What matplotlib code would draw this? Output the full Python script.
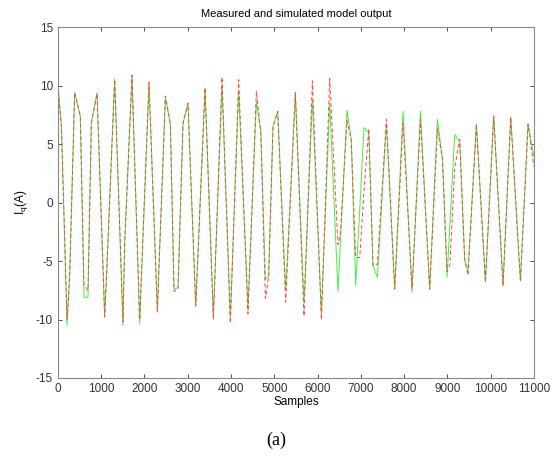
import matplotlib
matplotlib.use("Agg")
import matplotlib.pyplot as plt

# vertices (sample index, current in A)
samples = [0, 80, 210, 270, 386, 517, 602, 694, 772, 903, 1080, 1142, 1311, 1503,
           1543, 1711, 1889, 2104, 2298, 2483, 2599, 2683, 2776, 2891, 3006, 3185,
           3400, 3593, 3792, 3985, 4178, 4393, 4587, 4690, 4795, 4871, 4971, 5080,
           5265, 5488, 5688, 5882, 6090, 6282, 6474, 6530, 6682, 6780, 6883, 6976,
           7075, 7185, 7283, 7385, 7593, 7785, 7977, 8185, 8380, 8594, 8772, 8890,
           8995, 9060, 9172, 9288, 9403, 9480, 9673, 9882, 10074, 10289, 10467,
           10691, 10867, 11000]

measured = [10.0, 6.5, -10.5, -6.3, 9.4, 7.4, -8.1, -8.1, 6.8, 9.4, -9.7, -4.6, 10.6,
            -10.5, -3.4, 10.8, -10.4, 10.2, -9.1, 9.0, 6.7, -7.4, -7.3, 6.8, 8.4,
            -8.9, 9.7, -9.7, 10.0, -9.8, 9.5, -9.0, 8.6, 6.0, -6.6, -6.3, 6.5, 7.8,
            -7.5, 9.3, -8.6, 8.8, -9.5, 8.5, -7.6, -3.4, 7.9, 5.4, -7.1, -0.6,
            6.4, 6.0, -5.4, -6.4, 6.8, -7.4, 7.8, -7.7, 7.8, -7.4, 7.1, 3.7,
            -6.4, -1.9, 5.8, 5.2, -4.9, -5.8, 6.7, -6.8, 7.4, -7.1, 7.3,
            -6.7, 6.7, 4.0]

simulated = [10.0, 6.5, -10.0, -6.3, 9.4, 7.4, -7.1, -7.5, 6.8, 9.3, -9.8, -4.6, 10.5,
             -10.2, -3.4, 10.9, -10.0, 10.3, -9.4, 9.1, 6.7, -7.6, -7.3, 6.8, 8.5,
             -8.8, 9.8, -10.0, 10.7, -10.3, 10.5, -9.5, 9.5, 6.0, -8.2, -6.3, 6.5, 7.8,
             -8.5, 9.4, -9.7, 10.4, -10.0, 10.6, -3.6, -2.6, 7.0, 5.4, -4.7, -4.7,
             1.0, 6.3, -5.4, -5.3, 7.1, -7.4, 6.8, -7.3, 7.1, -7.4, 6.3, 3.7,
             -5.9, -5.3, 3.0, 5.4, -4.9, -6.2, 6.7, -6.8, 7.4, -7.1, 7.3,
             -6.7, 6.7, 3.1]

x_ticks = list(range(0, 11001, 1000))
y_ticks = [-15, -10, -5, 0, 5, 10, 15]

plt.rcParams["font.family"] = ["Liberation Sans", "DejaVu Sans"]
plt.rcParams["axes.unicode_minus"] = False

fig = plt.figure(figsize=(5.52, 4.59), dpi=100)
ax = fig.add_axes([0.105, 0.1765, 0.862, 0.7645])

ax.plot(samples, measured, color="#44ee44", lw=0.7)
ax.plot(samples, simulated, color="#ff4444", lw=0.7, ls=(0, (4, 2.5)))

ax.set_xlim(0, 11000)
ax.set_ylim(-15, 15)
ax.set_xticks(x_ticks)
ax.set_yticks(y_ticks)
ax.tick_params(direction="in", top=True, right=True, labelsize=8.5,
               colors="#333333", length=3, width=0.6)
for sp in ax.spines.values():
    sp.set_color("#888888")
    sp.set_linewidth(0.8)

ax.set_title("Measured and simulated model output", fontsize=8, pad=7)
ax.set_xlabel("Samples", fontsize=8.5, labelpad=1)
ax.set_ylabel(r"I$_\mathregular{q}$(A)", fontsize=8.5, labelpad=4)

fig.text(0.5, 0.04, "(a)", ha="center", va="center",
         family=["Liberation Serif", "DejaVu Serif"], fontsize=13)

fig.savefig("out.png", dpi=100)
